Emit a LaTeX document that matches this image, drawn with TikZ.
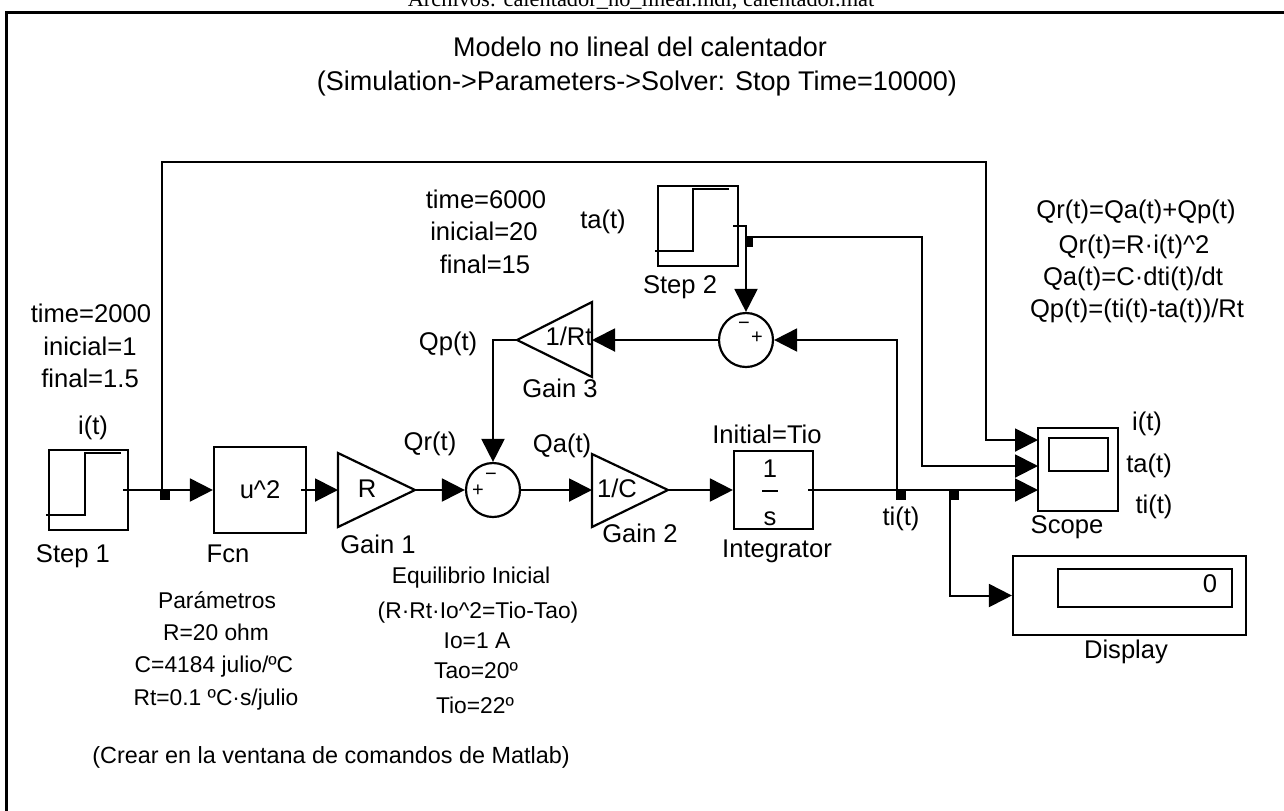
\documentclass[tikz,border=0pt]{standalone}
\usepackage{fontspec}
\setmainfont{Liberation Sans}
\newfontfamily\serifcut{Liberation Serif}
\usetikzlibrary{arrows.meta}
\begin{document}
\begin{tikzpicture}[x=0.5pt,y=-0.5pt,
  lbl/.style={font=\fontsize{12.8}{15}\selectfont, inner sep=0pt, anchor=base},
  lblsm/.style={font=\fontsize{11.4}{14}\selectfont, inner sep=0pt, anchor=base},
  ttl/.style={font=\fontsize{13.5}{16}\selectfont, inner sep=0pt, anchor=base},
  sgn/.style={font=\fontsize{10}{12}\selectfont, inner sep=0pt},
  blk/.style={draw, line width=1.1pt, inner sep=0pt},
  wire/.style={line width=1pt},
  arr/.style={wire, -{Triangle[length=11.5pt,width=11.5pt]}},
  bdot/.style={fill=black},
]
\useasboundingbox (0,0) rectangle (1284,810);
\clip (0,0) rectangle (1284,810);

% cut-off header and frame
\node[font=\serifcut\fontsize{11.2}{14}\selectfont, inner sep=0pt, anchor=base] (files) at (641,6) {Archivos: calentador\_no\_lineal.mdl, calentador.mat};
\draw[line width=1.5pt] (6.5,812) -- (6.5,12) -- (1290,12);

% title
\node[ttl] (title1) at (640,56) {Modelo no lineal del calentador};
\node[ttl] (title2) at (637,90) {(Simulation->Parameters->Solver: Stop Time=10000)};

% blocks
\node[blk, minimum width=39.5pt, minimum height=40pt] (step1) at (88.5,490) {};
\draw[wire] ([shift={(-2,66)}]step1.north west) -- ++(39,0) -- ++(0,-62) -- ++(36,0);
\draw[wire] ([shift={(-6,0)}]step1.east) -- (step1.east);

\node[blk, minimum width=46pt, minimum height=43pt, font=\fontsize{12.8}{15}\selectfont] (fcn) at (260,490) {u\textasciicircum 2};
\draw[wire] ([shift={(-6,0)}]fcn.east) -- (fcn.east);

\coordinate (g1in) at (338,490);
\coordinate (g1out) at (415,490);
\draw[line width=1.1pt, line join=miter] (338,453) -- (338,527) -- (g1out) -- cycle;
\node[lbl] (g1txt) at (367,497) {R};

\node[draw, circle, line width=1.1pt, minimum size=27pt, inner sep=0pt] (sum1) at (493,490) {};
\node[sgn] (sum1p) at (478,491) {+};
\node[sgn] (sum1m) at (491,477) {−};

\coordinate (g2in) at (592,490);
\coordinate (g2out) at (668,490);
\draw[line width=1.1pt, line join=miter] (592,454) -- (592,527) -- (g2out) -- cycle;
\node[lbl] (g2txt) at (617,497) {1/C};

\node[blk, minimum width=39.5pt, minimum height=39pt] (integ) at (773.5,490) {};
\node[lbl] (int1) at (770,477) {1};
\draw[wire] (762,491) -- (778,491);
\node[lbl] (ints) at (770,525) {s};
\draw[wire] ([shift={(-6,0)}]integ.east) -- (integ.east);

\node[blk, minimum width=40pt, minimum height=40pt] (step2) at (698,226) {};
\draw[wire] ([shift={(-2,66)}]step2.north west) -- ++(38,0) -- ++(0,-62) -- ++(36,0);
\draw[wire] ([shift={(-6,0)}]step2.east) -- (step2.east);

\node[draw, circle, line width=1.1pt, minimum size=27pt, inner sep=0pt] (sum2) at (746,340) {};
\node[sgn] (sum2m) at (744,326) {−};
\node[sgn] (sum2p) at (757,338) {+};

\coordinate (g3in) at (592,340);
\coordinate (g3out) at (517,340);
\draw[line width=1.1pt, line join=miter] (592,302) -- (592,377) -- (g3out) -- cycle;
\node[lbl] (g3txt) at (569,345) {1/Rt};

\node[blk, minimum width=40pt, minimum height=41.5pt] (scope) at (1078,469.5) {};
\node[blk, minimum width=29.5pt, minimum height=16.5pt] (scopescr) at (1078.5,454.5) {};
\coordinate (sc1) at (1038,440);
\coordinate (sc2) at (1038,466);
\coordinate (sc3) at (1038,490);

\node[blk, minimum width=116.5pt, minimum height=39.5pt] (disp) at (1129.5,595.5) {};
\node[blk, minimum width=87pt, minimum height=19pt] (dispscr) at (1145,588) {};
\node[lbl] (dispval) at (1210,592) {0};

% branch points and corners
\coordinate (j1) at (162,490);
\coordinate (j2) at (745,237);
\coordinate (j3) at (897,490);
\coordinate (j4) at (950,490);
\coordinate (c1a) at (162,162);
\coordinate (c1b) at (986,162);
\coordinate (c2) at (922,237);

% connectors
\draw[arr] (step1.east) -- (fcn.west);
\draw[arr] (fcn.east) -- (g1in);
\draw[arr] (g1out) -- (sum1.west);
\draw[arr] (sum1.east) -- (g2in);
\draw[arr] (g2out) -- (integ.west);
\draw[arr] (integ.east) -- (sc3);
\draw[arr] (j1) -- (c1a) -- (c1b) |- (sc1);
\draw[arr] (step2.east) -| (sum2.north);
\draw[arr] (j2) -- (c2) |- (sc2);
\draw[arr] (j3) |- (sum2.east);
\draw[arr] (sum2.west) -- (g3in);
\draw[arr] (g3out) -| (sum1.north);
\draw[arr] (j4) |- (disp.west);

\fill[bdot, shift={(j1)}] (-2,0) rectangle (8,10);
\fill[bdot, shift={(j2)}] (0,0) rectangle (8,10);
\fill[bdot, shift={(j3)}] (-1,0) rectangle (9,10);
\fill[bdot, shift={(j4)}] (0,0) rectangle (9,10);

% labels
\node[lbl] (t1a) at (91,322) {time=2000};
\node[lbl] (t1b) at (90,355) {inicial=1};
\node[lbl] (t1c) at (90,387) {final=1.5};
\node[lbl] (it1) at (93,434) {i(t)};
\node[lbl] (step1lbl) at (73,562) {Step 1};
\node[lbl] (fcnlbl) at (228,562) {Fcn};
\node[lbl] (g1lbl) at (378,553) {Gain 1};
\node[lbl] (qr) at (430,450) {Qr(t)};
\node[lbl] (qa) at (562,452) {Qa(t)};
\node[lbl] (g2lbl) at (640,542) {Gain 2};
\node[lbl] (intinit) at (767,443) {Initial=Tio};
\node[lbl] (intlbl) at (777,557) {Integrator};
\node[lbl] (qp) at (448,350) {Qp(t)};
\node[lbl] (g3lbl) at (560,397) {Gain 3};
\node[lbl] (t2a) at (486,208) {time=6000};
\node[lbl] (t2b) at (484,240) {inicial=20};
\node[lbl] (t2c) at (485,273) {final=15};
\node[lbl] (ta1) at (603,228) {ta(t)};
\node[lbl] (step2lbl) at (680,293) {Step 2};
\node[lbl] (ti1) at (901,525) {ti(t)};
\node[lbl] (scopelbl) at (1067,533) {Scope};
\node[lbl] (sci) at (1147,430) {i(t)};
\node[lbl] (scta) at (1149,472) {ta(t)};
\node[lbl] (scti) at (1154,513) {ti(t)};
\node[lbl] (displbl) at (1126,658) {Display};
\node[lbl] (eq1) at (1136,218) {Qr(t)=Qa(t)+Qp(t)};
\node[lbl] (eq2) at (1134,253) {Qr(t)=R·i(t)\textasciicircum 2};
\node[lbl] (eq3) at (1133,285) {Qa(t)=C·dti(t)/dt};
\node[lbl] (eq4) at (1137,317) {Qp(t)=(ti(t)-ta(t))/Rt};

\node[lblsm] (p1) at (217,608) {Parámetros};
\node[lblsm] (p2) at (216,640) {R=20 ohm};
\node[lblsm] (p3) at (214,672) {C=4184 julio/ºC};
\node[lblsm] (p4) at (216,705) {Rt=0.1 ºC·s/julio};
\node[lblsm] (e1) at (471,583) {Equilibrio Inicial};
\node[lblsm] (e2) at (478,618) {(R·Rt·Io\textasciicircum 2=Tio-Tao)};
\node[lblsm] (e3) at (477,648) {Io=1 A};
\node[lblsm] (e4) at (476,678) {Tao=20º};
\node[lblsm] (e5) at (475,713) {Tio=22º};
\node[lblsm, font=\fontsize{11.7}{14}\selectfont] (crear) at (331,763) {(Crear en la ventana de comandos de Matlab)};
\end{tikzpicture}
\end{document}
